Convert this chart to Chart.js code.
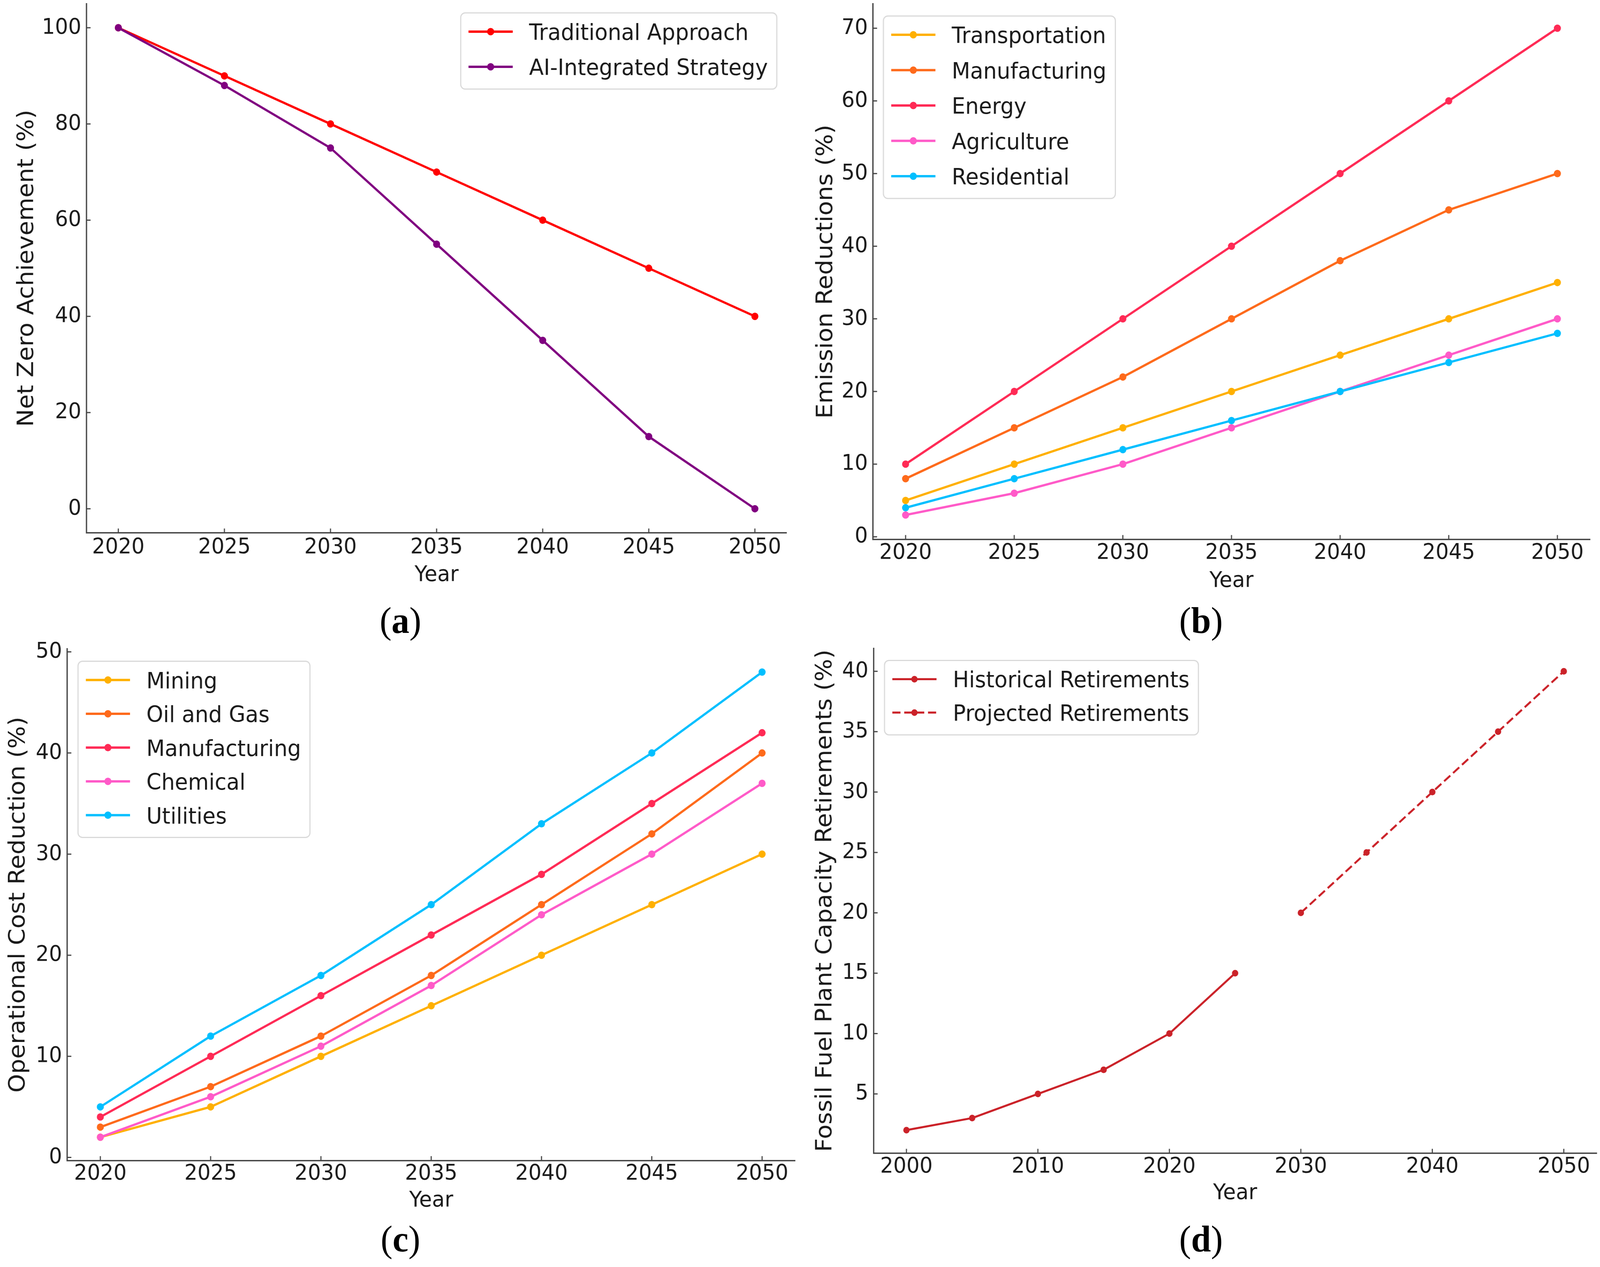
<!DOCTYPE html>
<html>
<head>
<meta charset="utf-8">
<script src="https://cdn.jsdelivr.net/npm/chart.js@4.4.1/dist/chart.umd.min.js"></script>
<style>
  html, body { margin: 0; padding: 0; background: #fff; overflow: hidden; }
  #fig { position: absolute; left: 0; top: 0; width: 4307px; height: 3243px; overflow: hidden; background: #fff; transform-origin: 0 0; }
  canvas { position: absolute; }
  .sub { position: absolute; width: 400px; text-align: center; font-family: "Liberation Serif", "DejaVu Serif", serif; font-size: 96px; line-height: 96px; color: #000; }
</style>
</head>
<body>
<div id="fig">
  <canvas id="chartA" style="left:0px;top:0px;width:2150px;height:1540px"></canvas>
  <canvas id="chartB" style="left:2150px;top:0px;width:2157px;height:1540px"></canvas>
  <canvas id="chartC" style="left:0px;top:1600px;width:2150px;height:1530px"></canvas>
  <canvas id="chartD" style="left:2150px;top:1600px;width:2157px;height:1530px"></canvas>
  <div class="sub" style="left:878px;top:1540px">(<b>a</b>)</div>
  <div class="sub" style="left:3033px;top:1540px">(<b>b</b>)</div>
  <div class="sub" style="left:878px;top:3123px">(<b>c</b>)</div>
  <div class="sub" style="left:3033px;top:3123px">(<b>d</b>)</div>
</div>
<script>
// ---- data ----
const years = [2020, 2025, 2030, 2035, 2040, 2045, 2050];

// (a) net zero achievement
const traditional = [100, 90, 80, 70, 60, 50, 40];
const aiIntegrated = [100, 88, 75, 55, 35, 15, 0];

// (b) emission reductions by sector
const transportation = [5, 10, 15, 20, 25, 30, 35];
const manufacturingEm = [8, 15, 22, 30, 38, 45, 50];
const energy = [10, 20, 30, 40, 50, 60, 70];
const agriculture = [3, 6, 10, 15, 20, 25, 30];
const residential = [4, 8, 12, 16, 20, 24, 28];

// (c) operational cost reduction
const mining = [2, 5, 10, 15, 20, 25, 30];
const oilGas = [3, 7, 12, 18, 25, 32, 40];
const manufacturingCost = [4, 10, 16, 22, 28, 35, 42];
const chemical = [2, 6, 11, 17, 24, 30, 37];
const utilities = [5, 12, 18, 25, 33, 40, 48];

// (d) fossil plant retirements
const histYears = [2000, 2005, 2010, 2015, 2020, 2025];
const histRetire = [2, 3, 5, 7, 10, 15];
const projYears = [2030, 2035, 2040, 2045, 2050];
const projRetire = [20, 25, 30, 35, 40];

// tick labels
const xTicksABC = [2020, 2025, 2030, 2035, 2040, 2045, 2050];
const xTicksD = [2000, 2010, 2020, 2030, 2040, 2050];
const yTicksA = [0, 20, 40, 60, 80, 100];
const yTicksB = [0, 10, 20, 30, 40, 50, 60, 70];
const yTicksC = [0, 10, 20, 30, 40, 50];
const yTicksD = [5, 10, 15, 20, 25, 30, 35, 40];

// the figure is laid out at 4307x3243; stretch it onto whatever viewport we get
const fig = document.getElementById('fig');
const sx = window.innerWidth / 4307, sy = window.innerHeight / 3243;
if (Math.abs(sx - 1) > 0.002 || Math.abs(sy - 1) > 0.002) fig.style.transform = `scale(${sx}, ${sy})`;

// ---- style ----
const FONT = '"DejaVu Sans", Verdana, sans-serif';
const INK = '#1a1a1a';
const SPINE = '#444444';
const palette = { yellow: '#FFB000', orange: '#FE6A1B', red: '#FF2A55', pink: '#FF5AC8', blue: '#00BFFF' };

function series(label, xs, ys, color, extra) {
  return Object.assign({
    label, data: xs.map((x, i) => ({ x, y: ys[i] })),
    borderColor: color, backgroundColor: color, pointBackgroundColor: color,
    pointBorderWidth: 0, pointRadius: 9.5, pointHoverRadius: 9.5,
    borderWidth: 5.8, borderJoinStyle: 'round', tension: 0, fill: false, clip: false
  }, extra || {});
}

// later datasets on top, like matplotlib
function stacked(list) { list.forEach((d, i) => d.order = list.length - i); return list; }

// matplotlib-style inward ticks
const inwardTicks = {
  id: 'inwardTicks',
  afterDraw(chart) {
    const { ctx, chartArea: a, scales: { x, y } } = chart;
    ctx.save();
    ctx.strokeStyle = SPINE; ctx.lineWidth = 3;
    ctx.beginPath();
    x.ticks.forEach(t => { const px = x.getPixelForValue(t.value); ctx.moveTo(px, a.bottom); ctx.lineTo(px, a.bottom - 11); });
    y.ticks.forEach(t => { const py = y.getPixelForValue(t.value); ctx.moveTo(a.left, py); ctx.lineTo(a.left + 11, py); });
    ctx.stroke();
    ctx.restore();
  }
};

// framed legend inside the axes
const boxLegend = {
  id: 'boxLegend',
  afterDraw(chart, args, opts) {
    const ctx = chart.ctx;
    const sets = chart.data.datasets;
    const row = opts.row;
    ctx.save();
    ctx.font = '57.5px ' + FONT;
    const textW = Math.max(...sets.map(d => ctx.measureText(d.label).width));
    const w = 21 + 119 + 44 + textW + 24;
    const h = 48 + (sets.length - 1) * row + 57;
    const left = opts.align === 'right' ? opts.x - w : opts.x;
    const top = opts.y;
    ctx.fillStyle = 'rgba(255,255,255,0.85)';
    ctx.strokeStyle = '#d9d9d9'; ctx.lineWidth = 3;
    ctx.beginPath(); ctx.roundRect(left, top, w, h, 12); ctx.fill(); ctx.stroke();
    sets.forEach((d, i) => {
      const cy = top + 48 + i * row;
      const x0 = left + 21;
      ctx.strokeStyle = d.borderColor; ctx.lineWidth = d.borderWidth;
      ctx.setLineDash(d.borderDash || []);
      ctx.beginPath(); ctx.moveTo(x0, cy); ctx.lineTo(x0 + 119, cy); ctx.stroke();
      ctx.setLineDash([]);
      ctx.fillStyle = d.pointBackgroundColor;
      ctx.beginPath(); ctx.arc(x0 + 59.5, cy, d.pointRadius, 0, Math.PI * 2); ctx.fill();
      ctx.fillStyle = INK; ctx.textBaseline = 'alphabetic'; ctx.textAlign = 'left';
      ctx.fillText(d.label, x0 + 119 + 44, cy + 21);
    });
    ctx.restore();
  }
};

function makeChart(id, p) {
  return new Chart(document.getElementById(id), {
    type: 'line',
    data: { datasets: p.datasets },
    plugins: [inwardTicks, boxLegend],
    options: {
      responsive: false, animation: false,
      layout: { padding: p.pad },
      plugins: { legend: { display: false }, tooltip: { enabled: false }, boxLegend: p.legend },
      scales: {
        x: {
          type: 'linear', min: p.xMin, max: p.xMax,
          grid: { display: false, drawTicks: false },
          border: { display: true, color: SPINE, width: 3.5 },
          afterBuildTicks: s => { s.ticks = p.xTicks.map(v => ({ value: v })); },
          afterFit: s => { s.height = p.xH; s.paddingLeft = 0; s.paddingRight = 0; },
          ticks: { autoSkip: false, maxRotation: 0, padding: p.xPad, color: INK, font: { family: FONT, size: 55.6 }, callback: v => String(v) },
          title: { display: true, text: 'Year', color: INK, font: { family: FONT, size: 56 }, padding: 0 }
        },
        y: {
          type: 'linear', min: p.yMin, max: p.yMax,
          grid: { display: false, drawTicks: false },
          border: { display: true, color: SPINE, width: 3.5 },
          afterBuildTicks: s => { s.ticks = p.yTicks.map(v => ({ value: v })); },
          afterFit: s => { s.width = p.yW; s.paddingTop = 0; s.paddingBottom = 0; },
          ticks: { autoSkip: false, padding: 14, color: INK, font: { family: FONT, size: 55.6 }, callback: v => String(v) },
          title: { display: true, text: p.yTitle, color: INK, font: { family: FONT, size: 61 }, padding: 0 }
        }
      }
    }
  });
}

makeChart('chartA', {
  datasets: stacked([
    series('Traditional Approach', years, traditional, '#FF0000'),
    series('AI-Integrated Strategy', years, aiIntegrated, '#800080')
  ]),
  xMin: 2018.5, xMax: 2051.5, xTicks: xTicksABC,
  yMin: -5, yMax: 105, yTicks: yTicksA,
  yTitle: 'Net Zero Achievement (%)',
  pad: { left: 36.4, top: 1.9, right: 32.3, bottom: 33.7 }, yW: 196.4, xH: 142.6, xPad: 4.6,
  legend: { align: 'right', x: 2091, y: 33, row: 90 }
});

makeChart('chartB', {
  datasets: stacked([
    series('Transportation', years, transportation, palette.yellow),
    series('Manufacturing', years, manufacturingEm, palette.orange),
    series('Energy', years, energy, palette.red),
    series('Agriculture', years, agriculture, palette.pink),
    series('Residential', years, residential, palette.blue)
  ]),
  xMin: 2018.5, xMax: 2051.5, xTicks: xTicksABC,
  yMin: -0.35, yMax: 73.35, yTicks: yTicksB,
  yTitle: 'Emission Reductions (%)',
  pad: { left: 37.4, top: 10, right: 27, bottom: 18.9 }, yW: 162.6, xH: 140.6, xPad: 1.6,
  legend: { align: 'left', x: 228, y: 41, row: 90.5 }
});

makeChart('chartC', {
  datasets: stacked([
    series('Mining', years, mining, palette.yellow),
    series('Oil and Gas', years, oilGas, palette.orange),
    series('Manufacturing', years, manufacturingCost, palette.red),
    series('Chemical', years, chemical, palette.pink),
    series('Utilities', years, utilities, palette.blue)
  ]),
  xMin: 2018.5, xMax: 2051.5, xTicks: xTicksABC,
  yMin: -0.3, yMax: 50.3, yTicks: yTicksC,
  yTitle: 'Operational Cost Reduction (%)',
  pad: { left: 13.4, top: 60.8, right: 4, bottom: 23.1 }, yW: 167.6, xH: 136.6, xPad: 0.6,
  legend: { align: 'left', x: 210, y: 92.5, row: 86.5 }
});

makeChart('chartD', {
  datasets: stacked([
    series('Historical Retirements', histYears, histRetire, '#CB2229', { borderWidth: 5.2, pointRadius: 8.5, pointHoverRadius: 8.5 }),
    series('Projected Retirements', projYears, projRetire, '#CB2229', { borderWidth: 5.2, pointRadius: 8.5, pointHoverRadius: 8.5, borderDash: [22, 10] })
  ]),
  xMin: 1997.5, xMax: 2052.5, xTicks: xTicksD,
  yMin: 0.1, yMax: 41.9, yTicks: yTicksD,
  yTitle: 'Fossil Fuel Plant Capacity Retirements (%)',
  pad: { left: 35.4, top: 59.6, right: 9, bottom: 42 }, yW: 166.1, xH: 136.6, xPad: 1.6,
  legend: { align: 'left', x: 231, y: 90.4, row: 85.5 }
});
</script>
</body>
</html>
